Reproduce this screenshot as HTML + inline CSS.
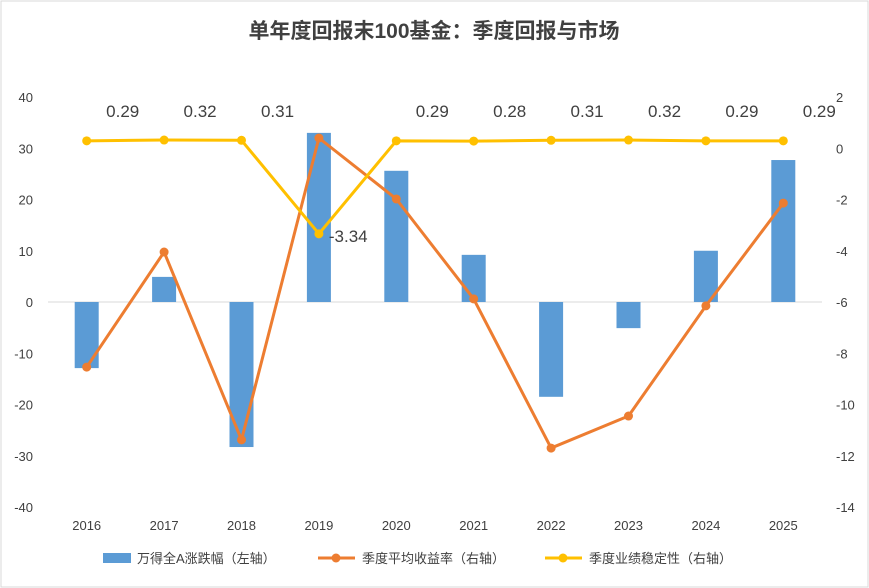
<!DOCTYPE html>
<html><head><meta charset="utf-8">
<style>
body{margin:0;background:#fff;font-family:"Liberation Sans","Noto Sans CJK SC",sans-serif;}
#wrap{width:869px;height:588px;position:relative;overflow:hidden}
</style></head>
<body>
<div id="wrap">
<svg id="chart" width="869" height="588"></svg>
</div>
<script>
const years=["2016","2017","2018","2019","2020","2021","2022","2023","2024","2025"];
const indexReturn=[-12.9,4.9,-28.3,33,25.6,9.2,-18.5,-5.1,10,27.7];
const avgReturn=[-8.54,-4.05,-11.38,0.4,-1.98,-5.88,-11.7,-10.45,-6.15,-2.14];
const stability=[0.29,0.32,0.31,-3.34,0.29,0.28,0.31,0.32,0.29,0.29];
const leftTicks=[40,30,20,10,0,-10,-20,-30,-40];
const rightTicks=[2,0,-2,-4,-6,-8,-10,-12,-14];

const NS="http://www.w3.org/2000/svg";
const svg=document.getElementById('chart');
function mk(t,a,txt){const e=document.createElementNS(NS,t);for(const k in a)e.setAttribute(k,a[k]);if(txt!==undefined)e.textContent=txt;svg.appendChild(e);return e;}
const yTop=97,yBot=507,x0=48,x1=822;
const yL=v=>yTop+(40-v)/80*(yBot-yTop);
const yR=v=>yTop+(2-v)/16*(yBot-yTop);
const step=(x1-x0)/years.length;
const xC=i=>x0+step*(i+0.5);

let e=mk('rect',{x:1,y:1,width:867,height:586,fill:'#fff',stroke:'#d9d9d9'});

e=mk('text',{x:434,y:38,'text-anchor':'middle','font-size':21,'font-weight':'bold',fill:'#404040'},'单年度回报末100基金：季度回报与市场');

e=mk('line',{x1:x0,x2:x1,y1:yL(0),y2:yL(0),stroke:'#d9d9d9'});

leftTicks.forEach(v=>{e=mk('text',{x:33,y:yL(v)+5,'text-anchor':'end','font-size':13,fill:'#404040'},v);
});
rightTicks.forEach(v=>{e=mk('text',{x:836,y:yR(v)+5,'text-anchor':'start','font-size':13,fill:'#404040'},v);
});
years.forEach((y,i)=>{e=mk('text',{x:xC(i),y:530,'text-anchor':'middle','font-size':13,fill:'#404040'},y);
});
indexReturn.forEach((v,i)=>{const a=yL(v),b=yL(0);
e=mk('rect',{x:xC(i)-12,y:Math.min(a,b),width:24,height:Math.abs(a-b),fill:'#5b9bd5'});
});
function line(vals,color,name){
 e=mk('polyline',{points:vals.map((v,i)=>xC(i)+','+yR(v)).join(' '),fill:'none',stroke:color,'stroke-width':3,'stroke-linejoin':'round'});
 
 vals.forEach((v,i)=>{e=mk('circle',{cx:xC(i),cy:yR(v),r:4.5,fill:color});
 });
}
line(avgReturn,'#ed7d31','avg-return');
line(stability,'#ffc000','stability');
stability.forEach((v,i)=>{
 const neg=v<0;
 e=mk('text',{x:neg?xC(i)+10:xC(i)+36,y:neg?yR(v)+8:117,'text-anchor':neg?'start':'middle','font-size':17,fill:'#404040'},v.toFixed(2));
 });
e=mk('rect',{x:103,y:553,width:28,height:10,fill:'#5b9bd5'});
e=mk('text',{x:137,y:563,'font-size':13,fill:'#404040'},'万得全A涨跌幅（左轴）');
e=mk('line',{x1:318,x2:355,y1:558,y2:558,stroke:'#ed7d31','stroke-width':3});
e=mk('circle',{cx:336,cy:558,r:4.5,fill:'#ed7d31'});
e=mk('text',{x:362,y:563,'font-size':13,fill:'#404040'},'季度平均收益率（右轴）');
e=mk('line',{x1:545,x2:582,y1:558,y2:558,stroke:'#ffc000','stroke-width':3});
e=mk('circle',{cx:563,cy:558,r:4.5,fill:'#ffc000'});
e=mk('text',{x:589,y:563,'font-size':13,fill:'#404040'},'季度业绩稳定性（右轴）');
</script>
</body></html>
